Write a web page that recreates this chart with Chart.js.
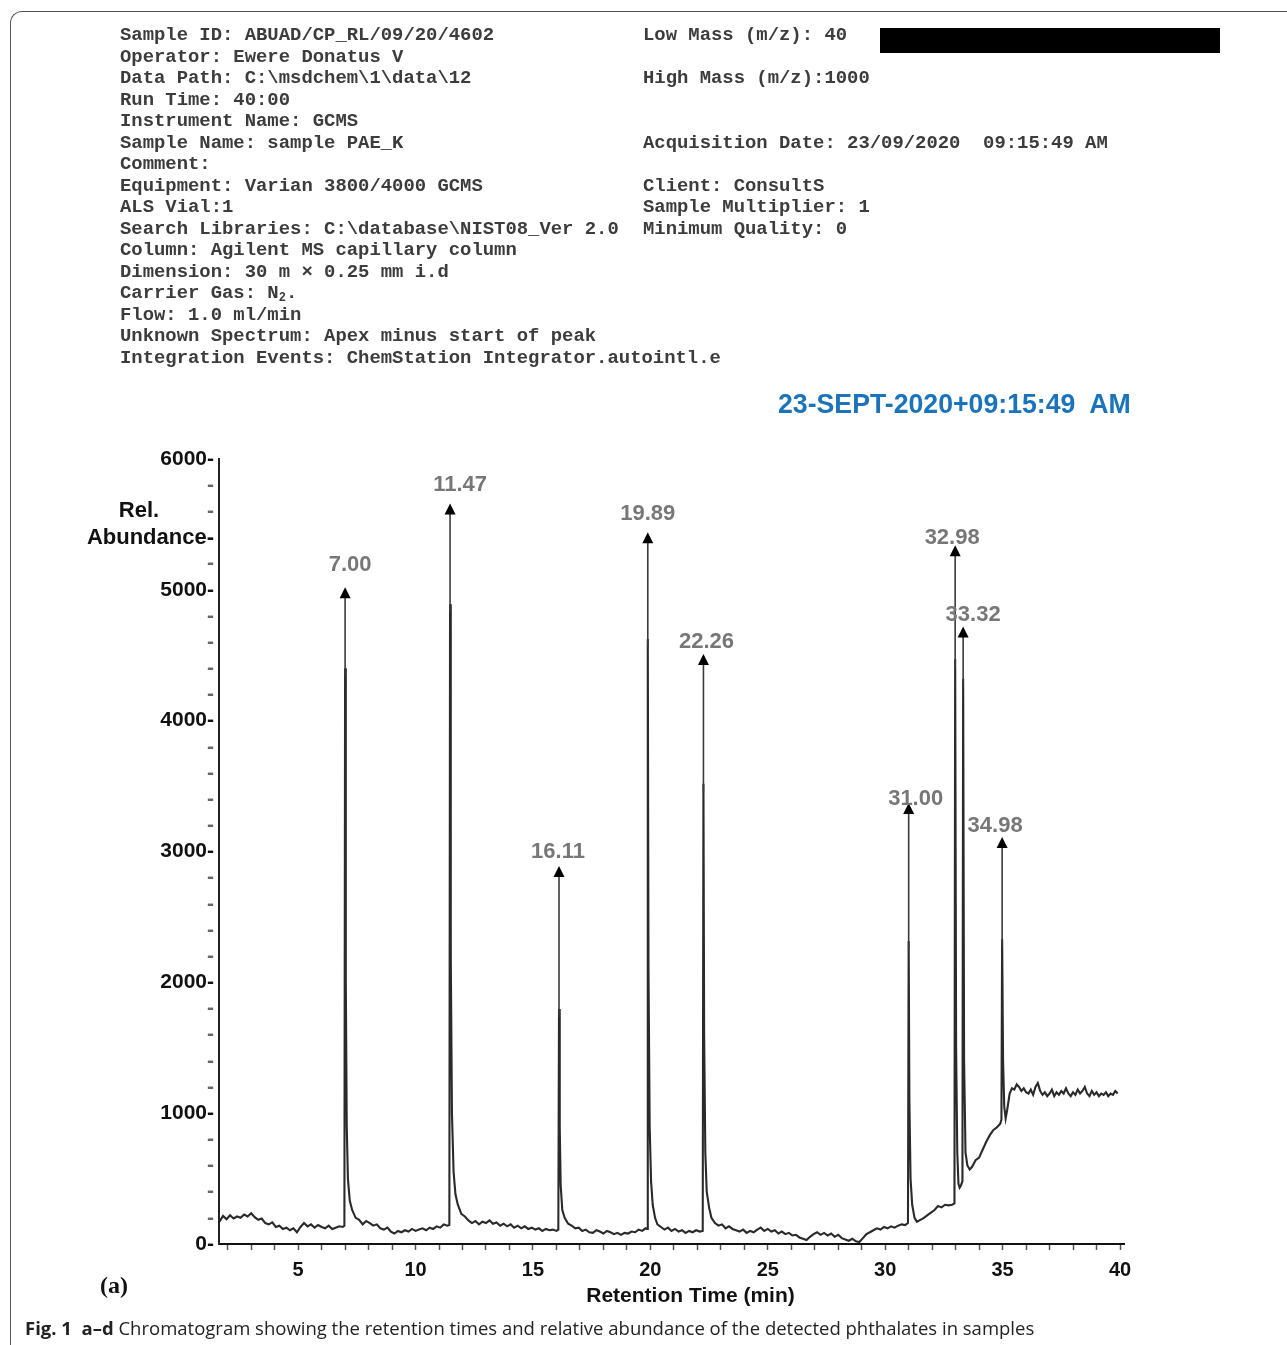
<!DOCTYPE html>
<html>
<head>
<meta charset="utf-8">
<script src="https://cdn.jsdelivr.net/npm/chart.js@4.4.1/dist/chart.umd.min.js"></script>
<style>
  html, body { margin: 0; padding: 0; background: #fff; }
  body { width: 1287px; height: 1345px; position: relative; overflow: hidden; }
  canvas { position: absolute; left: 0; top: 0; }
  #frame { position: absolute; left: 10px; top: 11px; width: 1400px; height: 1400px;
           border-top: 1.5px solid #555; border-left: 1.5px solid #555; border-top-left-radius: 12px; }
  .hdr { position: absolute; margin: 0; top: 25px; font-family: 'Liberation Mono', monospace; font-weight: bold;
         font-size: 18.9px; line-height: 21.5px; color: #3c3c3c; white-space: pre; }
  .hdr sub { font-size: 12px; line-height: 0; vertical-align: -3px; }
  #left { left: 120px; }
  #right { left: 643px; }
  #redact { position: absolute; left: 880px; top: 28px; width: 340px; height: 25px; background: #000; }
  #stamp { position: absolute; left: 778px; top: 388px; font: bold 28px 'Liberation Sans', Arial, sans-serif;
           color: #1b74ba; transform: scaleX(0.953); transform-origin: left top; white-space: pre; }
  #panel { position: absolute; left: 100px; top: 1272px; font: bold 24px 'Liberation Serif', serif; color: #111; }
  #caption { position: absolute; left: 25px; top: 1315px; font: 18.5px 'Open Sans', sans-serif; color: #222; white-space: nowrap; }
</style>
</head>
<body>
<canvas id="chart" width="1287" height="1345"></canvas>
<div id="frame"></div>
<pre class="hdr" id="left">Sample ID: ABUAD/CP_RL/09/20/4602
Operator: Ewere Donatus V
Data Path: C:\msdchem\1\data\12
Run Time: 40:00
Instrument Name: GCMS
Sample Name: sample PAE_K
Comment:
Equipment: Varian 3800/4000 GCMS
ALS Vial:1
Search Libraries: C:\database\NIST08_Ver 2.0
Column: Agilent MS capillary column
Dimension: 30 m × 0.25 mm i.d
Carrier Gas: N<sub>2</sub>.
Flow: 1.0 ml/min
Unknown Spectrum: Apex minus start of peak
Integration Events: ChemStation Integrator.autointl.e</pre>
<pre class="hdr" id="right">Low Mass (m/z): 40

High Mass (m/z):1000


Acquisition Date: 23/09/2020  09:15:49 AM

Client: ConsultS
Sample Multiplier: 1
Minimum Quality: 0</pre>
<div id="redact"></div>
<div id="stamp">23-SEPT-2020+09:15:49  AM</div>
<div id="panel">(a)</div>
<div id="caption"><b>Fig. 1&nbsp; a–d</b> Chromatogram showing the retention times and relative abundance of the detected phthalates in samples</div>

<script>
// chromatogram trace (min, counts)
const traceTime = [
  1.65, 1.8, 1.95, 2.1, 2.25, 2.4, 2.55, 2.7, 2.85, 3.0,
  3.15, 3.3, 3.45, 3.6, 3.75, 3.9, 4.05, 4.2, 4.35, 4.5,
  4.65, 4.8, 4.95, 5.1, 5.25, 5.4, 5.55, 5.7, 5.85, 6.0,
  6.15, 6.3, 6.45, 6.6, 6.75, 6.9, 6.97,
  7.0, 7.03, 7.07, 7.12, 7.2, 7.3, 7.45, 7.6, 7.75, 7.9,
  8.05, 8.2, 8.35, 8.5, 8.65, 8.8, 8.95, 9.1, 9.25, 9.4,
  9.55, 9.7, 9.85, 10.0, 10.15, 10.3, 10.45, 10.6, 10.75, 10.9,
  11.05, 11.2, 11.35, 11.44,
  11.47, 11.5, 11.55, 11.62, 11.7, 11.8, 11.95, 12.1, 12.25, 12.4,
  12.55, 12.7, 12.85, 13.0, 13.15, 13.3, 13.45, 13.6, 13.75, 13.9,
  14.05, 14.2, 14.35, 14.5, 14.65, 14.8, 14.95, 15.1, 15.25, 15.4,
  15.55, 15.7, 15.85, 16.0, 16.08,
  16.11, 16.14, 16.18, 16.25, 16.35, 16.5, 16.65, 16.8, 16.95, 17.1,
  17.25, 17.4, 17.55, 17.7, 17.85, 18.0, 18.15, 18.3, 18.45, 18.6,
  18.75, 18.9, 19.05, 19.2, 19.35, 19.5, 19.65, 19.8, 19.86,
  19.89, 19.92, 19.97, 20.03, 20.1, 20.2, 20.3, 20.45, 20.6, 20.75,
  20.9, 21.05, 21.2, 21.35, 21.5, 21.65, 21.8, 21.95, 22.1, 22.23,
  22.26, 22.29, 22.34, 22.4, 22.5, 22.6, 22.75, 22.9, 23.05, 23.2,
  23.35, 23.5, 23.65, 23.8, 23.95, 24.1, 24.25, 24.4, 24.55, 24.7,
  24.85, 25.0, 25.15, 25.3, 25.45, 25.6, 25.75, 25.9, 26.05, 26.2,
  26.35, 26.5, 26.65, 26.8, 26.95, 27.1, 27.25, 27.4, 27.55, 27.7,
  27.85, 28.0, 28.15, 28.3, 28.45, 28.6, 28.75, 28.9, 29.05, 29.2,
  29.35, 29.5, 29.65, 29.8, 29.95, 30.1, 30.25, 30.4, 30.55, 30.7,
  30.85, 30.97,
  31.0, 31.03, 31.08, 31.15, 31.25, 31.35, 31.5, 31.65, 31.8, 31.95,
  32.1, 32.25, 32.4, 32.55, 32.7, 32.85, 32.95,
  32.98, 33.02, 33.07, 33.12, 33.17, 33.22, 33.29,
  33.32, 33.36, 33.42, 33.5, 33.6, 33.7, 33.85, 34.0, 34.15, 34.3,
  34.45, 34.6, 34.75, 34.9, 34.95,
  34.98, 35.02, 35.07, 35.13, 35.2, 35.3, 35.4, 35.5, 35.6, 35.7,
  35.8, 35.9, 36.0, 36.1, 36.2, 36.3, 36.4, 36.5, 36.6, 36.7,
  36.8, 36.9, 37.0, 37.1, 37.2, 37.3, 37.4, 37.5, 37.6, 37.7,
  37.8, 37.9, 38.0, 38.1, 38.2, 38.3, 38.4, 38.5, 38.6, 38.7,
  38.8, 38.9, 39.0, 39.1, 39.2, 39.3, 39.4, 39.5, 39.6, 39.7,
  39.8, 39.9
];
const traceAbundance = [
  170, 215, 190, 220, 195, 210, 200, 225, 210, 235,
  205, 185, 195, 160, 150, 165, 130, 140, 115, 125,
  105, 120, 90, 130, 160, 135, 150, 125, 145, 130,
  120, 140, 115, 125, 135, 130, 140,
  4400, 2000, 900, 500, 330, 260, 200, 185, 150, 175,
  160, 140, 150, 120, 110, 125, 95, 80, 100, 90,
  105, 95, 115, 100, 110, 120, 105, 125, 115, 135,
  125, 150, 140, 145,
  4890, 2200, 1000, 550, 380, 300, 230, 210, 180, 160,
  175, 150, 170, 160, 180, 155, 165, 140, 155, 135,
  150, 125, 140, 120, 135, 115, 125, 110, 120, 100,
  115, 105, 110, 100, 110,
  1796, 900, 450, 260, 200, 155, 140, 120, 125, 100,
  110, 90, 85, 105, 95, 80, 100, 90, 75, 85,
  70, 85, 80, 95, 90, 110, 100, 120, 115,
  4625, 2100, 900, 480, 300, 200, 150, 130, 110, 125,
  100, 115, 95, 105, 85, 100, 90, 105, 95, 100,
  3517, 1600, 700, 400, 280, 200, 160, 140, 150, 120,
  135, 115, 105, 95, 110, 85, 100, 90, 110, 125,
  100, 115, 95, 105, 80, 95, 75, 85, 65, 70,
  50, 40, 30, 55, 75, 90, 70, 85, 65, 80,
  55, 70, 45, 35, 25, 40, 20, 15, 45, 75,
  90, 105, 120, 110, 130, 120, 135, 125, 140, 150,
  145, 160,
  2316, 1100, 500, 300, 200, 170, 185, 200, 220, 240,
  260, 290, 280, 300, 295, 300, 310,
  4470, 1500, 700, 460, 430, 445, 480,
  4320, 1400, 700, 600, 570, 590, 640, 660, 720, 780,
  830, 870, 890, 920, 950,
  2330, 1400, 1050, 960, 1030, 1150, 1190, 1180, 1220, 1200,
  1170, 1190, 1160, 1150, 1180, 1140, 1200, 1230, 1170, 1140,
  1160, 1130, 1150, 1180, 1130, 1160, 1140, 1170, 1150, 1190,
  1150, 1130, 1160, 1140, 1180, 1150, 1170, 1200, 1150, 1130,
  1170, 1140, 1160, 1130, 1150, 1140, 1160, 1130, 1150, 1140,
  1170, 1150
];

// labelled peaks
const peakLabels = ['7.00', '11.47', '16.11', '19.89', '22.26', '31.00', '32.98', '33.32', '34.98'];
const peakTimes  = [7.00, 11.47, 16.11, 19.89, 22.26, 31.00, 32.98, 33.32, 34.98];
const peakApex   = [4400, 4890, 1796, 4625, 3517, 2316, 4470, 4320, 2330];
const arrowTips  = [5020, 5660, 2890, 5440, 4510, 3370, 5340, 4720, 3110];

const xMajorTicks = [5, 10, 15, 20, 25, 30, 35, 40];
const yMajorTicks = [0, 1000, 2000, 3000, 4000, 5000, 6000];

const FONT = "'Liberation Sans', Arial, sans-serif";

const points = traceTime.map((t, i) => ({ x: t, y: traceAbundance[i] }));

const peakArrows = {
  id: 'peakArrows',
  afterDatasetsDraw(chart, args, opts) {
    const { ctx, scales: { x, y }, chartArea } = chart;
    ctx.save();
    peakTimes.forEach((t, i) => {
      const px = x.getPixelForValue(t);
      const yApex = y.getPixelForValue(peakApex[i]);
      const yTip = y.getPixelForValue(arrowTips[i]);
      ctx.strokeStyle = '#3a3a3a';
      ctx.lineWidth = 1.6;
      ctx.beginPath();
      ctx.moveTo(px, yApex + 8);
      ctx.lineTo(px, yTip + 10);
      ctx.stroke();
      ctx.fillStyle = '#000';
      ctx.beginPath();
      ctx.moveTo(px, yTip);
      ctx.lineTo(px - 5.5, yTip + 11);
      ctx.lineTo(px + 5.5, yTip + 11);
      ctx.closePath();
      ctx.fill();
      ctx.fillStyle = '#777';
      ctx.font = 'bold 22px ' + FONT;
      ctx.textAlign = 'center';
      ctx.textBaseline = 'alphabetic';
      ctx.fillText(peakLabels[i], px + opts.dx[i], yTip - 12 + opts.dy[i]);
    });
    // "Rel." sits above the Abundance tick label
    ctx.fillStyle = '#111';
    ctx.font = 'bold 22px ' + FONT;
    ctx.textAlign = 'center';
    ctx.textBaseline = 'middle';
    ctx.fillText('Rel.', y.left + 139, y.getPixelForValue(5600));
    // x axis title, set a little right of centre as in the print
    ctx.font = 'bold 21px ' + FONT;
    ctx.fillText('Retention Time (min)', (chartArea.left + chartArea.right) / 2 + 19, x.bottom - 13);
    ctx.restore();
  }
};

new Chart(document.getElementById('chart'), {
  type: 'line',
  data: {
    datasets: [{
      data: points,
      borderColor: '#2a2a2a',
      borderWidth: 2.1,
      pointRadius: 0,
      tension: 0,
      fill: false
    }]
  },
  options: {
    responsive: false,
    animation: false,
    layout: { padding: { left: 0, right: 163, top: 459, bottom: 36 } },
    plugins: {
      legend: { display: false },
      tooltip: { enabled: false },
      peakArrows: {
        dx: [5, 10, -1, 0, 3, 7, -3, 10, -7],
        dy: [-4, 0, 4, 0, 6, 14, 11, 7, 7]
      }
    },
    scales: {
      x: {
        type: 'linear',
        min: 1.63,
        max: 40.17,
        afterBuildTicks: (s) => {
          const ticks = [];
          for (let v = 2; v <= 40; v++) ticks.push({ value: v });
          s.ticks = ticks;
        },
        afterFit: (s) => { s.height = 65; },
        ticks: {
          autoSkip: false,
          maxRotation: 0,
          padding: 8,
          color: '#111',
          font: { family: FONT, size: 20, weight: 'bold' },
          callback: (v) => xMajorTicks.includes(v) ? String(v) : ''
        },
        grid: { drawOnChartArea: false, drawTicks: true, tickLength: 6, tickColor: '#555', tickWidth: 1.5 },
        border: { color: '#111', width: 2 }
      },
      y: {
        min: 0,
        max: 6000,
        afterBuildTicks: (s) => {
          const ticks = [];
          for (let v = 0; v <= 6000; v += 200) ticks.push({ value: v });
          s.ticks = ticks;
        },
        afterFit: (s) => { s.width = 219; },
        ticks: {
          autoSkip: false,
          padding: 5,
          font: (c) => ({ family: FONT, size: c.tick && c.tick.value === 5400 ? 22 : 21, weight: 'bold' }),
          color: (c) => (yMajorTicks.includes(c.tick.value) || c.tick.value === 5400) ? '#111' : '#666',
          callback: (v) => {
            if (yMajorTicks.includes(v)) return v + '-';
            if (v === 5400) return 'Abundance-';
            return '-';
          }
        },
        grid: { drawOnChartArea: false, drawTicks: false },
        border: { color: '#222', width: 2 }
      }
    }
  },
  plugins: [peakArrows]
});
</script>
</body>
</html>
